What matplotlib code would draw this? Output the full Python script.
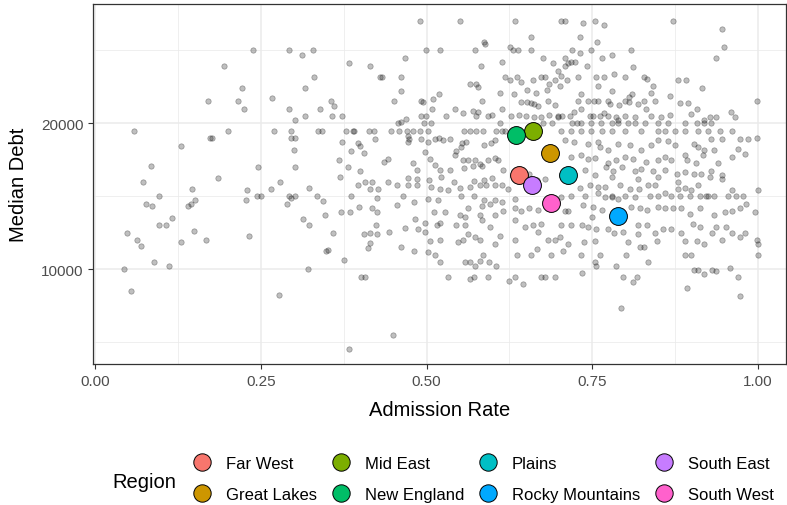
import matplotlib

matplotlib.use("Agg")
import matplotlib.pyplot as plt
from matplotlib.lines import Line2D
import numpy as np

plt.rcParams["font.family"] = ["Liberation Sans", "DejaVu Sans"]

# individual schools: (admission rate, median debt)
school_points = [
    (0.239, 25000), (0.293, 25000), (0.312, 24700), (0.328, 25000), (0.194, 23950), (0.331, 23200),
    (0.222, 22450), (0.317, 22450), (0.171, 21500), (0.216, 21500), (0.267, 21700), (0.224, 20950),
    (0.293, 20950), (0.340, 20950), (0.302, 20200), (0.316, 20500), (0.059, 19500), (0.200, 19500),
    (0.270, 19500), (0.295, 19500), (0.336, 19500), (0.342, 19500), (0.174, 19000), (0.177, 19000),
    (0.295, 19000), (0.301, 19000), (0.130, 18450), (0.300, 18200), (0.085, 17050), (0.246, 17000),
    (0.302, 17000), (0.073, 16000), (0.186, 16250), (0.279, 16000),
    (0.147, 15500), (0.096, 15000), (0.077, 14450), (0.086, 14350), (0.151, 14750), (0.141, 14350),
    (0.145, 14450), (0.229, 15450), (0.227, 14750), (0.244, 15000), (0.250, 15000), (0.265, 15500),
    (0.322, 15550), (0.292, 15000), (0.296, 14850), (0.301, 15000), (0.289, 14450), (0.335, 15000),
    (0.344, 14650), (0.347, 13700), (0.048, 12500), (0.097, 13000), (0.107, 13000), (0.116, 13500),
    (0.064, 12000), (0.069, 11600), (0.149, 12600), (0.129, 11900), (0.167, 12000), (0.232, 12300),
    (0.313, 13450), (0.323, 13000), (0.349, 11250), (0.089, 10500), (0.112, 10250), (0.044, 10000),
    (0.321, 10000), (0.055, 8500), (0.278, 8250),
    (0.490, 27000), (0.551, 27000), (0.633, 27000), (0.657, 25900), (0.586, 25600), (0.588, 25450),
    (0.626, 25250), (0.631, 25000), (0.638, 25000), (0.657, 25000), (0.499, 25000), (0.520, 25000),
    (0.573, 25000), (0.676, 24450), (0.690, 24100), (0.383, 24150), (0.415, 23950), (0.467, 24450),
    (0.582, 23900), (0.613, 24200), (0.430, 23200), (0.433, 23200), (0.461, 23200), (0.618, 23200),
    (0.626, 22950), (0.637, 23200), (0.642, 22800), (0.661, 22950), (0.673, 23200), (0.679, 23200),
    (0.685, 22700), (0.693, 22950), (0.565, 22700), (0.575, 22700), (0.577, 22500), (0.461, 22200),
    (0.518, 22000), (0.510, 21650), (0.611, 22100), (0.632, 22000), (0.652, 22300), (0.665, 22050),
    (0.681, 22300), (0.492, 21500), (0.495, 21450), (0.451, 21500), (0.583, 21500), (0.642, 21450),
    (0.652, 21450), (0.657, 21400), (0.662, 21300), (0.668, 21200), (0.683, 21500), (0.693, 21250),
    (0.356, 21500), (0.361, 21200), (0.508, 20950), (0.543, 20950), (0.614, 20950), (0.570, 20850),
    (0.577, 20750), (0.574, 20500), (0.357, 20500), (0.372, 20500), (0.491, 20500), (0.499, 20500),
    (0.530, 20500), (0.555, 20700), (0.592, 20500), (0.598, 20550), (0.627, 20500), (0.639, 20550),
    (0.650, 20500), (0.662, 20450), (0.673, 20450), (0.685, 20600), (0.698, 20450), (0.457, 20000),
    (0.461, 20100), (0.469, 20300), (0.496, 20000), (0.506, 20000), (0.611, 20000), (0.675, 20050),
    (0.689, 20000),
    (0.378, 19500), (0.389, 19500), (0.390, 19500), (0.413, 19500), (0.420, 19500), (0.446, 19500),
    (0.458, 19500), (0.470, 19500), (0.480, 19500), (0.490, 19500), (0.502, 19500), (0.557, 19500),
    (0.566, 19500), (0.575, 19500), (0.585, 19500), (0.605, 19500), (0.613, 19500), (0.618, 19500),
    (0.373, 18750), (0.397, 18650), (0.399, 18450), (0.422, 18900), (0.472, 19150), (0.473, 18900),
    (0.472, 18750), (0.491, 18900), (0.502, 18750), (0.513, 18900), (0.519, 19000), (0.525, 18850),
    (0.536, 18950), (0.553, 18650), (0.559, 18750), (0.587, 18500), (0.597, 18650), (0.603, 18850),
    (0.386, 18100), (0.406, 17950), (0.436, 17350), (0.442, 17550), (0.497, 18000), (0.544, 18100),
    (0.543, 17800), (0.552, 18350), (0.555, 17500), (0.562, 17450), (0.573, 17450), (0.580, 17200),
    (0.592, 17450), (0.603, 17650), (0.607, 17450), (0.368, 17500), (0.381, 17000), (0.399, 16750),
    (0.480, 17250), (0.486, 16800), (0.505, 17550), (0.513, 17150), (0.520, 16800), (0.522, 16350),
    (0.536, 16800), (0.556, 16950), (0.570, 17050), (0.583, 17100), (0.598, 16250), (0.616, 16800),
    (0.370, 16350), (0.407, 15950), (0.417, 16000), (0.442, 16000), (0.472, 16250), (0.485, 16150),
    (0.503, 16100), (0.542, 15950), (0.572, 16050), (0.586, 16100), (0.643, 16300), (0.655, 16500),
    (0.667, 16100), (0.678, 16200),
    (0.702, 27000), (0.709, 27000), (0.736, 26900), (0.754, 27000), (0.767, 26700), (0.872, 27000),
    (0.945, 26450), (0.732, 25900), (0.757, 25600), (0.948, 25200), (0.719, 25000), (0.732, 24800),
    (0.748, 25000), (0.809, 25000), (0.764, 24450), (0.779, 24700), (0.709, 24450), (0.936, 24450),
    (0.713, 24100), (0.718, 24200), (0.724, 24200), (0.742, 23950), (0.708, 23950), (0.811, 23850),
    (0.698, 23600), (0.703, 23250), (0.712, 22950), (0.729, 23200), (0.756, 23200), (0.768, 23200),
    (0.783, 23400), (0.799, 23200), (0.828, 23200), (0.833, 23050), (0.842, 22550), (0.879, 22950),
    (0.891, 22950), (0.915, 22450), (0.701, 22550), (0.759, 22550), (0.779, 22200), (0.806, 21800),
    (0.810, 22000), (0.838, 22050), (0.867, 21850), (0.733, 22000),
    (0.728, 21500), (0.743, 21500), (0.752, 21500), (0.759, 21500), (0.774, 21500), (0.777, 21300),
    (0.790, 21250), (0.799, 21550), (0.806, 21450), (0.819, 21300), (0.828, 21500), (0.844, 21500),
    (0.882, 21400), (0.894, 21400), (0.998, 21500),
    (0.723, 20750), (0.733, 20950), (0.751, 20500), (0.768, 20700), (0.786, 20400), (0.789, 20250),
    (0.814, 20450), (0.831, 20950), (0.854, 20450), (0.867, 20550), (0.898, 20650), (0.908, 20950),
    (0.919, 20250), (0.928, 20450), (0.937, 20450), (0.959, 20750), (0.965, 20450), (0.698, 20500),
    (0.704, 20500), (0.716, 20500), (0.747, 20500), (0.762, 20500), (0.774, 20500), (0.799, 20500),
    (0.839, 20500),
    (0.719, 20000), (0.727, 20000), (0.733, 20000), (0.748, 20000), (0.763, 20000), (0.779, 20000),
    (0.789, 20000), (0.804, 20000), (0.814, 20000), (0.829, 20000), (0.849, 20000), (0.864, 20000),
    (0.890, 20000), (0.908, 20000), (0.919, 20000), (0.929, 20000),
    (0.703, 19500), (0.718, 19500), (0.733, 19500), (0.748, 19500), (0.764, 19500), (0.779, 19500),
    (0.799, 19500), (0.824, 19500), (0.849, 19500), (0.859, 19500), (0.874, 19500), (0.889, 19500),
    (0.909, 19500), (0.924, 19500), (0.942, 19500), (0.960, 19500),
    (0.998, 19000), (0.985, 18950), (0.972, 18950), (0.945, 18900), (0.929, 18900), (0.708, 18850),
    (0.723, 18700), (0.744, 18600), (0.759, 18700), (0.761, 18350), (0.774, 18200), (0.789, 18600),
    (0.807, 18500), (0.824, 18150), (0.839, 18500), (0.849, 18850), (0.864, 18800), (0.874, 18500),
    (0.903, 18600), (0.909, 18350), (0.919, 18150), (0.934, 18200), (0.970, 18250), (0.980, 17900),
    (0.960, 17700), (0.940, 17250), (0.929, 16750), (0.945, 16450),
    (0.718, 17700), (0.733, 17800), (0.743, 17550), (0.754, 17650), (0.774, 17250), (0.786, 17500),
    (0.799, 17700), (0.811, 17550), (0.831, 17350), (0.849, 17450), (0.859, 17700), (0.869, 17500),
    (0.892, 17500), (0.907, 17250), (0.917, 17800), (0.889, 17800),
    (0.739, 16800), (0.754, 16450), (0.771, 17000), (0.781, 16750), (0.794, 17000), (0.814, 16750),
    (0.824, 16850), (0.842, 16700), (0.859, 16800), (0.877, 16550), (0.889, 16650), (0.904, 16500),
    (0.914, 16500), (0.779, 16300), (0.819, 16200), (0.849, 16300), (0.879, 16000), (0.927, 16300),
    (0.945, 16200),
    (0.397, 15800), (0.414, 15500), (0.427, 15500), (0.455, 15750), (0.472, 15750), (0.485, 15750),
    (0.507, 15650), (0.520, 15500), (0.533, 15450), (0.550, 15600), (0.565, 15650), (0.580, 15750),
    (0.590, 15750), (0.603, 15750), (0.613, 15750), (0.623, 15500),
    (0.386, 15000), (0.426, 14900), (0.465, 15000), (0.502, 14800), (0.517, 14750), (0.552, 15000),
    (0.572, 15000), (0.587, 14750), (0.603, 14750), (0.613, 14600), (0.633, 14800), (0.562, 14200),
    (0.583, 14350), (0.595, 14450), (0.371, 13950), (0.384, 13950), (0.398, 14250), (0.417, 14200),
    (0.426, 13950), (0.456, 14400), (0.481, 14600), (0.511, 13950), (0.528, 13950), (0.550, 13750),
    (0.558, 13600), (0.580, 13750), (0.603, 13750), (0.615, 14000), (0.633, 14200), (0.643, 14000),
    (0.655, 14200), (0.668, 14050),
    (0.359, 12450), (0.406, 12400), (0.414, 12450), (0.426, 12400), (0.443, 12550), (0.468, 12850),
    (0.482, 13450), (0.487, 12750), (0.498, 12550), (0.498, 13200), (0.516, 13000), (0.521, 13200),
    (0.545, 13000), (0.558, 13000), (0.563, 12400), (0.583, 13350), (0.596, 12900), (0.611, 12300),
    (0.633, 13400), (0.648, 12900), (0.661, 13000), (0.668, 12550), (0.673, 13100), (0.424, 13050),
    (0.351, 11300), (0.414, 11800), (0.412, 11450), (0.462, 11500), (0.481, 11250), (0.502, 11150),
    (0.512, 11000), (0.505, 11950), (0.520, 12000), (0.547, 11900), (0.555, 12000), (0.573, 12200),
    (0.585, 11000), (0.580, 12000), (0.603, 11700), (0.633, 12000), (0.636, 11000), (0.657, 11000),
    (0.666, 11400), (0.683, 12000), (0.693, 12000), (0.688, 11000),
    (0.376, 10600), (0.401, 9500), (0.407, 9500), (0.521, 10500), (0.558, 10500), (0.565, 10500),
    (0.573, 10250), (0.580, 10550), (0.594, 10500), (0.605, 10200), (0.532, 9500), (0.565, 9350),
    (0.571, 9500), (0.593, 9500), (0.625, 9200), (0.633, 9500), (0.645, 9000), (0.673, 9500),
    (0.678, 9500), (0.693, 9500), (0.449, 5500), (0.383, 4550),
    (0.731, 15600), (0.746, 15750), (0.759, 15650), (0.769, 15650), (0.779, 15050), (0.791, 15750),
    (0.807, 15500), (0.821, 15500), (0.834, 15750), (0.844, 15750), (0.860, 15250), (0.879, 15500),
    (0.889, 15600), (0.899, 15400), (0.909, 15750), (0.924, 15000), (0.934, 15000), (0.960, 15400),
    (1.000, 15400), (0.703, 14950), (0.718, 15000), (0.739, 15000), (0.759, 15200), (0.769, 14950),
    (0.779, 14950), (0.789, 14800), (0.799, 15000), (0.814, 14950), (0.837, 15000), (0.849, 15000),
    (0.869, 15000), (0.882, 15000), (0.897, 15000), (0.912, 15000), (0.922, 15000), (0.954, 15000),
    (0.967, 15000), (0.977, 15000), (0.982, 14500),
    (0.708, 14000), (0.713, 14000), (0.736, 14400), (0.751, 14250), (0.764, 14050), (0.809, 14250),
    (0.822, 14200), (0.833, 14050), (0.849, 14250), (0.859, 14200), (0.872, 14200), (0.884, 14200),
    (0.897, 13800), (0.912, 14200), (0.934, 13700), (0.950, 13950), (0.960, 14000), (0.972, 14200),
    (0.995, 13950),
    (0.749, 13550), (0.744, 12900), (0.755, 12750), (0.774, 12750), (0.783, 12450), (0.796, 12550),
    (0.804, 11900), (0.819, 13000), (0.819, 12400), (0.833, 13050), (0.844, 12450), (0.848, 11950),
    (0.857, 12750), (0.869, 12750), (0.884, 12450), (0.890, 11950), (0.902, 13100), (0.912, 12900),
    (0.908, 11950), (0.918, 11700), (0.931, 12450), (0.937, 12900), (0.945, 12000), (0.952, 12900),
    (0.960, 12450), (0.972, 12200), (0.980, 12450), (0.998, 12000), (1.000, 11750), (0.703, 13050),
    (0.718, 13000), (0.734, 13000), (0.701, 12200), (0.714, 11750), (0.706, 11250), (0.737, 11900),
    (0.754, 11950), (0.733, 11000), (0.761, 11000), (0.801, 11000), (0.822, 11500), (0.828, 11550),
    (0.834, 10500), (0.889, 11000), (0.899, 11000), (0.754, 10500), (0.755, 10250), (0.785, 10250),
    (0.796, 9500), (0.811, 9100), (0.817, 9500), (0.904, 9950), (0.909, 9950), (0.919, 9700),
    (0.930, 9950), (0.937, 9850), (0.957, 10100), (0.970, 9500), (0.892, 8700), (0.972, 8200),
    (0.734, 9750), (1.000, 10950), (0.793, 7350),
]

regions = ["Far West", "Great Lakes", "Mid East", "New England",
           "Plains", "Rocky Mountains", "South East", "South West"]
region_rate = [0.640, 0.686, 0.661, 0.635, 0.714, 0.789, 0.659, 0.687]
region_debt = [16450, 17950, 19500, 19200, 16480, 13650, 15800, 14520]
region_colors = ["#F8766D", "#CD9600", "#7CAE00", "#00BE67",
                 "#00BFC4", "#00A9FF", "#C77CFF", "#FF61CC"]

x_ticks = [0.00, 0.25, 0.50, 0.75, 1.00]
y_ticks = [10000, 20000]

school_rate = np.array([p[0] for p in school_points])
school_debt = np.array([p[1] for p in school_points])

fig = plt.figure(figsize=(7.87, 5.06), dpi=100)
ax = fig.add_axes([93 / 787, 1 - 365 / 506, 693 / 787, 360 / 506])

ax.scatter(school_rate, school_debt, s=15, facecolor=(0, 0, 0, 0.25),
           edgecolor=(0, 0, 0, 0.35), linewidths=0.5, zorder=2)
for rate, debt, col in zip(region_rate, region_debt, region_colors):
    ax.scatter(rate, debt, s=165, color=col, edgecolor="black", linewidths=0.7, zorder=3)

ax.set_xlim(-0.003, 1.042)
ax.set_ylim(3510, 28170)
ax.set_xticks(x_ticks)
ax.set_xticklabels([f"{t:.2f}" for t in x_ticks])
ax.set_yticks(y_ticks)
ax.set_yticklabels([str(t) for t in y_ticks])
ax.set_xticks([0.125, 0.375, 0.625, 0.875], minor=True)
ax.set_yticks([5000, 15000, 25000], minor=True)
ax.grid(which="major", color="#EBEBEB", linewidth=1.1, zorder=0)
ax.grid(which="minor", color="#EBEBEB", linewidth=0.55, zorder=0)
ax.set_axisbelow(True)
ax.tick_params(which="major", length=3.5, width=0.8, color="#333333",
               labelsize=11, labelcolor="#4D4D4D", pad=3.5)
ax.tick_params(which="minor", length=0)
for sp in ax.spines.values():
    sp.set_color("#333333")
    sp.set_linewidth(0.9)

ax.set_xlabel("Admission Rate", fontsize=14.5, labelpad=9)
ax.set_ylabel("Median Debt", fontsize=14.5, labelpad=9)

handles = [Line2D([], [], marker="o", linestyle="none", markersize=12.5,
                  markerfacecolor=c, markeredgecolor="black", markeredgewidth=0.7)
           for c in region_colors]
fig.text(112 / 787, 1 - 482 / 506, "Region", fontsize=14.5, va="center", ha="left")
fig.legend(handles, regions, ncol=4, loc="center left",
           bbox_to_anchor=(192 / 787, 1 - 480 / 506), frameon=False,
           fontsize=12, handlelength=1.2, handletextpad=0.82,
           columnspacing=0.85, labelspacing=0.99, borderpad=0, borderaxespad=0)

fig.savefig("out.png", dpi=100)
